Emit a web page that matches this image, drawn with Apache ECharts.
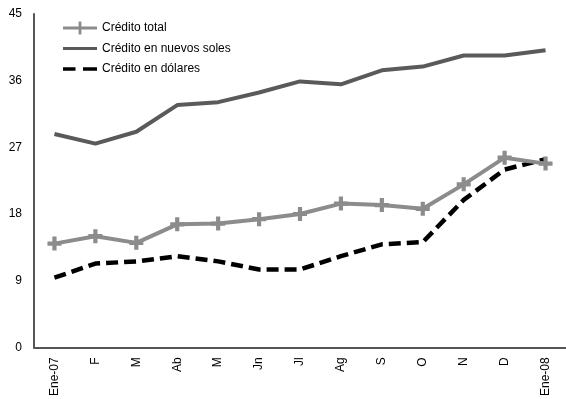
<!DOCTYPE html>
<html>
<head>
<meta charset="utf-8">
<script src="https://cdn.jsdelivr.net/npm/echarts@6/dist/echarts.min.js"></script>
<style>
  html, body { margin: 0; padding: 0; background: #ffffff; }
  #chart { width: 566px; height: 399px; }
</style>
</head>
<body>
<div id="chart"></div>
<script>
// Months of the period (Jan-2007 to Jan-2008)
var categories = ['Ene-07', 'F', 'M', 'Ab', 'M', 'Jn', 'Jl', 'Ag', 'S', 'O', 'N', 'D', 'Ene-08'];

// Annual growth of credit, in percent
var creditoTotal = [14.0, 15.0, 14.1, 16.6, 16.7, 17.3, 18.0, 19.4, 19.2, 18.7, 22.0, 25.6, 24.8];
var creditoSoles = [28.8, 27.5, 29.1, 32.7, 33.1, 34.4, 35.9, 35.5, 37.4, 37.9, 39.4, 39.4, 40.1];
var creditoDolares = [9.4, 11.3, 11.6, 12.3, 11.6, 10.5, 10.5, 12.3, 13.9, 14.2, 19.9, 24.0, 25.4];

var yTicks = [0, 9, 18, 27, 36, 45];

// Plus-shaped marker
var plusPath = 'path://M3.5,0 H6.5 V3.5 H10 V6.5 H6.5 V10 H3.5 V6.5 H0 V3.5 H3.5 Z';

// Legend icons drawn in a 34x14 box (zero-area corners fix the box size)
var iconTotal = 'path://M0,5.5 H34 V8.5 H0 Z M15.6,0.5 H18.4 V13.5 H15.6 Z M0,0 L0,0 L0,0 Z M34,14 L34,14 L34,14 Z';
var iconSoles = 'path://M0,5.5 H34 V8.5 H0 Z M0,0 L0,0 L0,0 Z M34,14 L34,14 L34,14 Z';
var iconDolares = 'path://M0,5.2 H12.5 V8.8 H0 Z M20,5.2 H34 V8.8 H20 Z M0,0 L0,0 L0,0 Z M34,14 L34,14 L34,14 Z';

var font = 'Liberation Sans, Arial, sans-serif';

var chart = echarts.init(document.getElementById('chart'), null, { renderer: 'canvas' });
chart.setOption({
  animation: false,
  backgroundColor: '#ffffff',
  textStyle: { fontFamily: font },
  legend: {
    orient: 'vertical',
    left: 63,
    top: 21,
    padding: 0,
    itemWidth: 34,
    itemHeight: 14,
    itemGap: 6.5,
    itemStyle: { borderWidth: 0 },
    textStyle: { fontFamily: font, fontSize: 12, color: '#000000' },
    data: [
      { name: 'Crédito total', icon: iconTotal },
      { name: 'Crédito en nuevos soles', icon: iconSoles },
      { name: 'Crédito en dólares', icon: iconDolares }
    ]
  },
  grid: { left: 34, top: 14, width: 533, height: 334 },
  xAxis: {
    type: 'category',
    data: categories,
    boundaryGap: true,
    axisLine: { lineStyle: { color: '#555555', width: 2 } },
    axisTick: { show: false },
    axisLabel: {
      rotate: 90,
      margin: 10,
      interval: 0,
      fontFamily: font,
      fontSize: 12,
      color: '#000000'
    }
  },
  yAxis: {
    type: 'value',
    min: yTicks[0],
    max: yTicks[yTicks.length - 1],
    interval: 9,
    splitLine: { show: false },
    axisTick: { show: false },
    axisLine: { show: true, lineStyle: { color: '#555555', width: 2 } },
    axisLabel: { fontFamily: font, fontSize: 12, color: '#000000', margin: 12 }
  },
  series: [
    {
      name: 'Crédito en nuevos soles',
      type: 'line',
      data: creditoSoles,
      symbol: 'none',
      lineStyle: { color: '#5a5a5a', width: 4 },
      itemStyle: { color: '#5a5a5a', borderWidth: 0 }
    },
    {
      name: 'Crédito en dólares',
      type: 'line',
      data: creditoDolares,
      symbol: 'none',
      lineStyle: { color: '#000000', width: 4.5, type: [12, 6] },
      itemStyle: { color: '#000000', borderWidth: 0 }
    },
    {
      name: 'Crédito total',
      type: 'line',
      data: creditoTotal,
      symbol: plusPath,
      symbolSize: 14,
      showAllSymbol: true,
      lineStyle: { color: '#8c8c8c', width: 4 },
      itemStyle: { color: '#8c8c8c', borderWidth: 0 }
    }
  ]
});
</script>
</body>
</html>
